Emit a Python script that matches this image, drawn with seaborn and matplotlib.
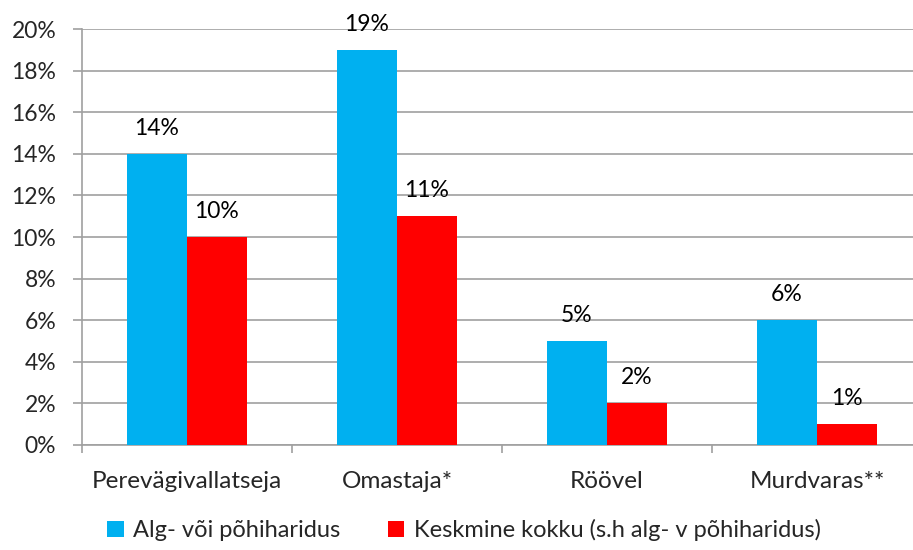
#!/usr/bin/env python3

import numpy as np
import pandas as pd
import matplotlib
matplotlib.use('Agg')
import matplotlib.pyplot as plt
import seaborn as sns

categories = ['Perevägivallatseja', 'Omastaja*', 'Röövel', 'Murdvaras**']
series_names = ['Alg- või põhiharidus', 'Keskmine kokku (s.h alg- v põhiharidus)']
alg_values = [14, 19, 5, 6]
keskmine_values = [10, 11, 2, 1]
colors = ['#00B0F0', '#FF0000']

df = pd.DataFrame({
    'kategooria': categories * 2,
    'seeria': [series_names[0]] * 4 + [series_names[1]] * 4,
    'vaartus': alg_values + keskmine_values,
})

sns.set_theme(style='white')
plt.rcParams['font.family'] = ['Lato', 'DejaVu Sans']
fs = 16.5
fs_txt = 17.5

fig = plt.figure(figsize=(9.13, 5.5), dpi=100)
ax = fig.add_axes([0.0898, 0.191, 0.92, 0.756])

sns.barplot(data=df, x='kategooria', y='vaartus', hue='seeria', palette=colors,
            width=0.571, saturation=1, linewidth=0, ax=ax, zorder=3)

for cont in ax.containers:
    ax.bar_label(cont, labels=[f'{v:.0f}%' for v in cont.datavalues],
                 padding=11, fontsize=fs, color='#000000')

ax.set_ylim(0, 20)
ax.set_xlim(-0.5, 3.5)
ax.set_yticks(np.arange(0, 21, 2))
ax.set_yticklabels([f'{t}%' for t in range(0, 21, 2)], fontsize=fs)
ax.yaxis.grid(True, color='#A0A0A0', linewidth=1.2, zorder=0)
ax.set_axisbelow(True)

ax.set_xticks(np.arange(-0.5, 4, 1), minor=False)
ax.set_xticklabels([])
ax.set_xticks(np.arange(0, 4), minor=True)
ax.set_xticklabels(categories, minor=True, fontsize=fs_txt)
ax.tick_params(axis='x', which='major', length=6, width=1.2, color='#A0A0A0', direction='out', bottom=True)
ax.tick_params(axis='x', which='minor', length=0, pad=19)
ax.tick_params(axis='y', length=6.5, width=1.2, color='#A0A0A0', direction='out', left=True, pad=12)

ax.set_xlabel('')
ax.set_ylabel('')
for s in ['top', 'right']:
    ax.spines[s].set_visible(False)
for s in ['left', 'bottom']:
    ax.spines[s].set_color('#A0A0A0')
    ax.spines[s].set_linewidth(1.2)

handles, labels = ax.get_legend_handles_labels()
ax.get_legend().remove()
fig.legend(handles, labels, loc='center', bbox_to_anchor=(0.508, 0.036), ncol=2, frameon=False,
           fontsize=17, handlelength=0.7, handleheight=0.7, columnspacing=2.0, handletextpad=0.4)

plt.savefig('out.png', dpi=100)
